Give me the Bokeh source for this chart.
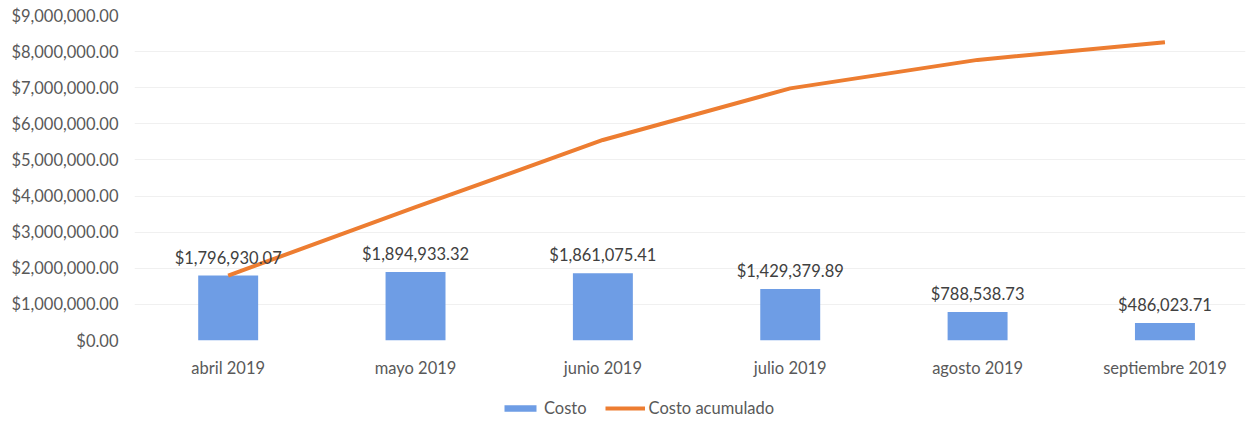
from bokeh.plotting import figure
from bokeh.layouts import column
from bokeh.models import ColumnDataSource, FixedTicker, NumeralTickFormatter, Legend, LegendItem, Range1d
from bokeh.embed import file_html
from bokeh.resources import INLINE
from bokeh.core.properties import value

months = ["abril 2019", "mayo 2019", "junio 2019", "julio 2019", "agosto 2019", "septiembre 2019"]
costo = [1796930.07, 1894933.32, 1861075.41, 1429379.89, 788538.73, 486023.71]
costo_acumulado = [1796930.07, 3691863.39, 5552938.80, 6982318.69, 7770857.42, 8256881.13]
labels = ["$1,796,930.07", "$1,894,933.32", "$1,861,075.41", "$1,429,379.89", "$788,538.73", "$486,023.71"]
y_ticks = [0, 1000000, 2000000, 3000000, 4000000, 5000000, 6000000, 7000000, 8000000, 9000000]
series_names = ["Costo", "Costo acumulado"]

xs = list(range(len(months)))
src = ColumnDataSource(dict(x=xs, costo=costo, acum=costo_acumulado, lab=labels))

FONT = "Lato"
FS = "16.5px"
TXT = "#595959"
BAR = "#6e9de5"
ORANGE = "#ed7d31"

p = figure(width=1247, height=382, output_backend="svg", toolbar_location=None,
           x_range=Range1d(-0.5, 5.43), y_range=Range1d(0, 9000000),
           min_border_left=134, min_border_right=2, min_border_top=15, min_border_bottom=42)
p.outline_line_color = None
p.background_fill_color = "white"
p.border_fill_color = "white"

p.vbar(x="x", top="costo", width=0.32, source=src, fill_color=BAR, line_color=None)
p.line(x="x", y="acum", source=src, line_color=ORANGE, line_width=4)
p.text(x="x", y="costo", text="lab", source=src, text_align="center", text_baseline="bottom",
       y_offset=-8, text_font=value(FONT), text_font_size=FS, text_color="#404040")

p.xaxis.ticker = FixedTicker(ticks=xs)
p.xaxis.major_label_overrides = {i: m for i, m in enumerate(months)}
p.yaxis.ticker = FixedTicker(ticks=y_ticks)
p.yaxis.formatter = NumeralTickFormatter(format="$0,0.00")

for ax in (p.xaxis[0], p.yaxis[0]):
    ax.axis_line_color = None
    ax.major_tick_line_color = None
    ax.minor_tick_line_color = None
    ax.major_tick_out = 0
    ax.major_tick_in = 0
    ax.major_label_text_font = FONT
    ax.major_label_text_font_size = FS
    ax.major_label_text_color = TXT
p.xaxis.major_label_standoff = 17
p.yaxis.major_label_standoff = 16

p.xgrid.grid_line_color = None
p.ygrid.grid_line_color = "#f0f0f0"
p.ygrid.grid_line_width = 1

# legend strip below the chart (its swatch renderers sit outside the visible range)
lg = figure(width=1247, height=38, output_backend="svg", toolbar_location=None,
            x_range=Range1d(0, 1), y_range=Range1d(0, 1),
            min_border_left=0, min_border_right=0, min_border_top=0, min_border_bottom=0)
lg.axis.visible = False
lg.grid.visible = False
lg.outline_line_color = None
lg.border_fill_color = "white"
r_bar = lg.vbar(x=[-10], top=[-10], width=0.3, fill_color=BAR, line_color=None)
r_line = lg.line(x=[-10, -9], y=[-10, -10], line_color=ORANGE, line_width=4)
legend = Legend(items=[LegendItem(label=series_names[0], renderers=[r_bar]),
                       LegendItem(label=series_names[1], renderers=[r_line])],
                location=(366, 2), orientation="horizontal",
                glyph_width=40, glyph_height=8, label_height=20, label_standoff=4,
                spacing=18, padding=0, margin=0, border_line_color=None,
                background_fill_alpha=0,
                label_text_font=FONT, label_text_font_size=FS, label_text_color=TXT)
lg.add_layout(legend, "center")

layout = column(p, lg, spacing=0)
open("out.html", "w").write(file_html(layout, INLINE))
